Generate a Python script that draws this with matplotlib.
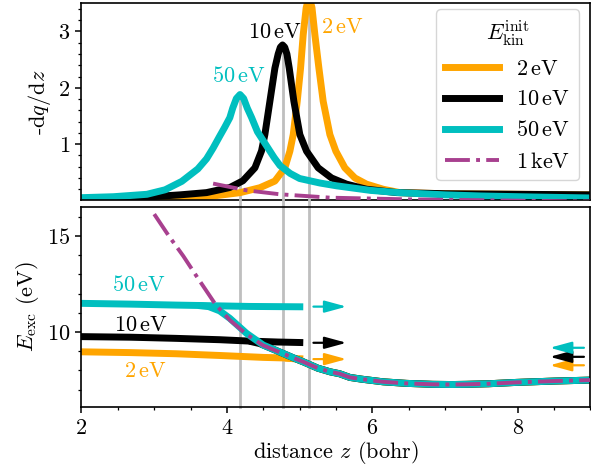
import numpy as np
import matplotlib
matplotlib.use("Agg")
import matplotlib.pyplot as plt

plt.rcParams['font.family'] = 'serif'
plt.rcParams['font.serif'] = ['cmr10']
plt.rcParams['mathtext.fontset'] = 'cm'
plt.rcParams['axes.formatter.use_mathtext'] = True
plt.rcParams['axes.unicode_minus'] = False
plt.rcParams['font.size'] = 16

# ---------------- data ----------------
labels = ['2$\\,$eV', '10$\\,$eV', '50$\\,$eV', '1$\\,$keV']
colors = ['#FFA500', '#000000', '#00BFBF', '#A8408F']

# top panel: -dq/dz
x_top_2 = [2.0, 3.0, 3.5, 3.812, 4.18, 4.454, 4.66, 4.797, 4.866, 4.912, 4.967, 5.013, 5.049, 5.09, 5.131,
           5.17, 5.21, 5.265, 5.324, 5.416, 5.498, 5.622, 5.76, 5.92, 6.148, 6.378, 7.0, 8.0, 9.0]
y_top_2 = [0.0, 0.03, 0.05, 0.08, 0.139, 0.227, 0.345, 0.58, 0.876, 1.17, 1.76, 2.35, 2.94, 3.42, 3.62,
           3.42, 2.94, 2.35, 1.76, 1.17, 0.876, 0.58, 0.40, 0.29, 0.20, 0.14, 0.12, 0.11, 0.10]

x_top_10 = [2.0, 2.5, 3.0, 3.354, 3.72, 4.04, 4.22, 4.385, 4.476, 4.522, 4.591, 4.66, 4.705, 4.735, 4.765,
            4.795, 4.825, 4.857, 4.921, 5.003, 5.095, 5.255, 5.439, 5.645, 5.92, 6.333, 7.0, 8.0, 9.0]
y_top_10 = [0.02, 0.04, 0.07, 0.10, 0.14, 0.23, 0.35, 0.58, 0.88, 1.17, 1.76, 2.35, 2.60, 2.72, 2.76,
            2.72, 2.60, 2.35, 1.76, 1.17, 0.876, 0.58, 0.40, 0.29, 0.20, 0.14, 0.12, 0.11, 0.10]

x_top_50 = [2.0, 2.44, 2.9, 3.15, 3.38, 3.6, 3.72, 3.81, 3.9, 3.97, 4.04, 4.08, 4.13, 4.18, 4.23,
            4.28, 4.34, 4.42, 4.5, 4.555, 4.65, 4.73, 4.87, 5.0, 5.28, 5.51, 5.97, 6.36, 7.0, 7.5,
            8.3, 9.0]
y_top_50 = [0.05, 0.067, 0.11, 0.19, 0.34, 0.56, 0.74, 0.93, 1.14, 1.30, 1.47, 1.64, 1.81, 1.88, 1.81,
            1.64, 1.47, 1.22, 1.06, 0.95, 0.76, 0.62, 0.48, 0.39, 0.31, 0.26, 0.18, 0.14, 0.10, 0.08,
            0.06, 0.045]

x_top_1k = [3.81, 4.27, 4.73, 5.42, 6.5, 7.8, 9.0]
y_top_1k = [0.30, 0.18, 0.11, 0.05, 0.02, 0.0, -0.02]

peak_x = [5.131, 4.765, 4.18]
peak_y = [3.62, 2.76, 1.88]

# bottom panel: E_exc
x_common = [5.05, 5.25, 5.42, 5.55, 5.69, 5.85, 6.0, 6.15, 6.47, 6.83, 7.1, 7.29, 7.6, 7.98, 8.5, 9.0]
y_common = [8.45, 8.12, 7.93, 7.83, 7.64, 7.55, 7.48, 7.41, 7.33, 7.28, 7.27, 7.28, 7.31, 7.38, 7.45, 7.5]

x_bot_50 = [2.0, 2.67, 3.3, 3.6, 3.75, 3.9, 4.04, 4.27, 4.5, 4.64, 4.77, 4.95]
y_bot_50 = [11.49, 11.45, 11.40, 11.38, 11.32, 11.1, 10.71, 9.93, 9.32, 9.1, 8.89, 8.6]
x_stub_50 = [3.6, 4.3, 5.05]
y_stub_50 = [11.38, 11.33, 11.31]

x_bot_10 = [2.0, 2.67, 3.3, 3.9, 4.3, 4.45, 4.64, 4.77, 4.95]
y_bot_10 = [9.76, 9.73, 9.67, 9.6, 9.53, 9.4, 9.1, 8.89, 8.6]
x_stub_10 = [4.3, 4.7, 5.05]
y_stub_10 = [9.53, 9.48, 9.45]

x_bot_2 = [2.0, 2.67, 3.3, 3.9, 4.5, 4.8, 4.95]
y_bot_2 = [8.97, 8.93, 8.87, 8.78, 8.68, 8.65, 8.6]
x_stub_2 = [4.8, 4.95, 5.05]
y_stub_2 = [8.65, 8.62, 8.6]

x_bot_1k = [3.0, 3.2, 3.4, 3.6, 3.84, 4.04, 4.27, 4.5, 4.64, 4.77, 4.95]
y_bot_1k = [16.13, 15.0, 13.95, 12.8, 11.45, 10.62, 9.88, 9.3, 9.08, 8.88, 8.6]

arrow_out_y = [8.59, 9.44, 11.32]   # 2, 10, 50 eV, right-pointing
arrow_in_y = [8.27, 8.71, 9.18]     # 2, 10, 50 eV, left-pointing
arrow_out_x = (5.19, 5.645)
arrow_in_x = (8.91, 8.44)

# ---------------- figure ----------------
fig = plt.figure(figsize=(5.91, 4.68), dpi=100)
left, width = 0.1379, 0.8612
ax1 = fig.add_axes([left, 0.5716, width, 0.4214])
ax2 = fig.add_axes([left, 0.1303, width, 0.4274], sharex=ax1)

grey = '#BFBFBF'
lw = 5

# top
ax1.vlines(peak_x, 0, peak_y, color=grey, lw=2, zorder=1)
ax1.plot(x_top_2, y_top_2, color=colors[0], lw=lw, label=labels[0], zorder=2)
ax1.plot(x_top_10, y_top_10, color=colors[1], lw=lw, label=labels[1], zorder=2)
ax1.plot(x_top_50, y_top_50, color=colors[2], lw=lw, label=labels[2], zorder=2)
ax1.plot(x_top_1k, y_top_1k, color=colors[3], lw=2.8, ls='-.', label=labels[3], zorder=3)

ax1.text(4.165, 2.10, '50$\\,$eV', color=colors[2], ha='center', va='baseline')
ax1.text(4.66, 2.89, '10$\\,$eV', color=colors[1], ha='center', va='baseline')
ax1.text(5.59, 2.98, '2$\\,$eV', color=colors[0], ha='center', va='baseline')

ax1.set_ylim(0, 3.5)
ax1.set_yticks([1, 2, 3])
ax1.set_yticks(np.arange(0.2, 3.5, 0.2), minor=True)
ax1.set_ylabel('-d$q$/d$z$')

leg = ax1.legend(loc='upper right', title='$E_{\\mathrm{kin}}^{\\mathrm{init}}$', handlelength=2.4,
                 bbox_to_anchor=(1.0, 1.025), fancybox=True)

# bottom
for xv in peak_x:
    ax2.axvline(xv, ymin=0, ymax=1.04, color=grey, lw=2, zorder=1, clip_on=False)

ax2.plot(x_bot_2 + x_common, y_bot_2 + y_common, color=colors[0], lw=lw, zorder=2)
ax2.plot(x_stub_2, y_stub_2, color=colors[0], lw=lw, solid_capstyle='butt', zorder=2)
ax2.plot(x_bot_10 + x_common, y_bot_10 + y_common, color=colors[1], lw=lw, zorder=2.1)
ax2.plot(x_stub_10, y_stub_10, color=colors[1], lw=lw, solid_capstyle='butt', zorder=2.1)
ax2.plot(x_bot_50 + x_common, y_bot_50 + y_common, color=colors[2], lw=lw, zorder=2.2)
ax2.plot(x_stub_50, y_stub_50, color=colors[2], lw=lw, solid_capstyle='butt', zorder=2.2)
ax2.plot(x_bot_1k + x_common, y_bot_1k + y_common, color=colors[3], lw=2.8, ls='-.', zorder=3)

for yv, c in zip(arrow_out_y, colors[:3]):
    ax2.annotate('', xy=(arrow_out_x[1], yv), xytext=(arrow_out_x[0], yv),
                 arrowprops=dict(arrowstyle='-|>,head_length=1.1,head_width=0.3', color=c, lw=1.6,
                                 shrinkA=0, shrinkB=0, mutation_scale=12))
for yv, c in zip(arrow_in_y, colors[:3]):
    ax2.annotate('', xy=(arrow_in_x[1], yv), xytext=(arrow_in_x[0], yv),
                 arrowprops=dict(arrowstyle='-|>,head_length=1.1,head_width=0.3', color=c, lw=1.6,
                                 shrinkA=0, shrinkB=0, mutation_scale=12))

ax2.text(2.79, 12.13, '50$\\,$eV', color=colors[2], ha='center', va='baseline')
ax2.text(2.82, 10.05, '10$\\,$eV', color=colors[1], ha='center', va='baseline')
ax2.text(2.88, 7.64, '2$\\,$eV', color=colors[0], ha='center', va='baseline')

ax2.set_xlim(2, 9)
ax2.set_ylim(6.1, 16.5)
ax2.set_xticks([2, 4, 6, 8])
ax2.set_xticks(np.arange(2.5, 9.01, 0.5), minor=True)
ax2.set_yticks([10, 15])
ax2.set_yticks([7, 8, 9, 11, 12, 13, 14, 16], minor=True)
ax2.set_ylabel('$E_{\\mathrm{exc}}$ (eV)')
ax2.set_xlabel('distance $z$ (bohr)', labelpad=1)

for ax in (ax1, ax2):
    for s in ax.spines.values():
        s.set_linewidth(1.2)
    ax.tick_params(which='major', length=4.5, width=1.1, direction='out')
    ax.tick_params(which='minor', length=2.5, width=0.9, direction='out')
ax1.tick_params(axis='x', which='both', bottom=False, labelbottom=False)

fig.savefig('out.png', dpi=100)
